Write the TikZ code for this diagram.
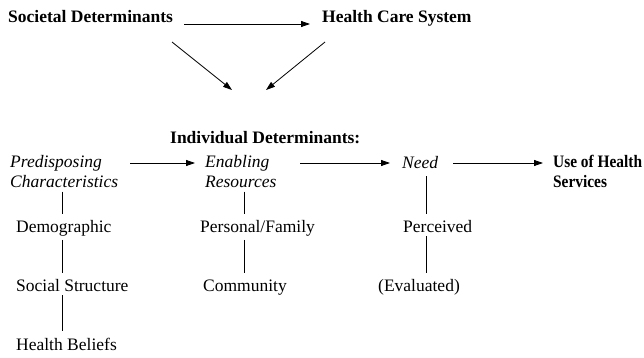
\documentclass[tikz,border=0pt]{standalone}
\usepackage{fontspec}
\setmainfont{Liberation Serif}
\usetikzlibrary{arrows.meta}
\begin{document}
\begin{tikzpicture}[x=1pt,y=-1pt,
  lbl/.style={inner sep=0pt, anchor=base west, font=\fontsize{17.5}{20}\selectfont},
  bld/.style={lbl, font=\fontsize{17.5}{20}\selectfont\bfseries},
  itl/.style={lbl, font=\fontsize{17.5}{20}\selectfont\itshape},
  arr/.style={line width=0.8pt, -{Triangle[length=9pt,width=6pt]}},
  ln/.style={line width=0.8pt}]
\useasboundingbox (0,0) rectangle (644,358);
% top row
\node[bld] (soc) at (8,23) {Societal Determinants};
\node[bld] (hcs) at (322,23) {Health Care System};
\draw[arr] ([xshift=11pt,yshift=-1pt]soc.base east) -- ([xshift=-12pt,yshift=-1pt]hcs.base west |- soc.base east) coordinate (h0);
\coordinate (dl1) at (172,42);
\coordinate (dl2) at (232,90);
\coordinate (dr1) at (325,42);
\coordinate (dr2) at (266,90);
\draw[arr] (dl1) -- (dl2);
\draw[arr] (dr1) -- (dr2);
% individual determinants
\node[bld] (ind) at (170,143) {Individual Determinants:};
\node[itl, align=left, anchor=north west] (pre) at (10,155) {Predisposing\\Characteristics};
\node[itl, align=left, anchor=north west] (ena) at (205,155) {Enabling\\Resources};
\node[itl] (need) at (402,168) {Need};
\node[bld, align=left, anchor=north west, xscale=0.88, transform shape] (use) at (553,155) {Use of Health\\Services};
\coordinate (a1) at (130,163);
\coordinate (a2) at (195,163);
\coordinate (b1) at (300,163);
\coordinate (b2) at (390,163);
\coordinate (c1) at (453,163);
\coordinate (c2) at (543,163);
\draw[arr] (a1) -- (a2);
\draw[arr] (b1) -- (b2);
\draw[arr] (c1) -- (c2);
% sub items
\node[lbl] (dem) at (16,232) {Demographic};
\node[lbl] (ss) at (16,291) {Social Structure};
\node[lbl] (hb) at (16,350) {Health Beliefs};
\node[lbl] (pf) at (200,232) {Personal/Family};
\node[lbl] (com) at (203,291) {Community};
\node[lbl] (per) at (403,232) {Perceived};
\node[lbl] (eva) at (378,291) {(Evaluated)};
\coordinate (x1) at (62,0);
\coordinate (x2) at (244,0);
\coordinate (x3) at (426,0);
\draw[ln] ([yshift=-4pt]pre.south -| x1) -- ([yshift=6pt]dem.north -| x1);
\draw[ln] ([yshift=-4pt]dem.south -| x1) -- ([yshift=6pt]ss.north -| x1);
\draw[ln] ([yshift=-4pt]ss.south -| x1) -- ([yshift=6pt]hb.north -| x1);
\draw[ln] ([yshift=-4pt]ena.south -| x2) -- ([yshift=6pt]pf.north -| x2);
\draw[ln] ([yshift=-4pt]pf.south -| x2) -- ([yshift=6pt]com.north -| x2);
\draw[ln] ([yshift=-8pt]need.south -| x3) -- ([yshift=6pt]per.north -| x3);
\draw[ln] ([yshift=-4pt]per.south -| x3) -- ([yshift=6pt]eva.north -| x3);
\end{tikzpicture}
\end{document}
